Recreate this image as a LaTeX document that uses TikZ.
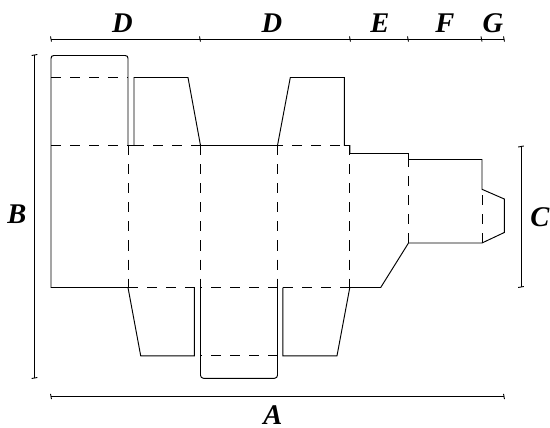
\documentclass[tikz,border=0pt]{standalone}
\usepackage{fontspec}
\setmainfont{Liberation Serif}
\tikzset{
  cutline/.style={line width=0.95pt,line join=miter},
  foldline/.style={line width=0.95pt,dash pattern=on 10pt off 9pt},
  dimline/.style={line width=0.9pt},
  tick/.style={line width=0.9pt},
  dimlabel/.style={font=\fontsize{28.5}{28.5}\selectfont\bfseries\itshape,inner sep=0pt,anchor=base}
}
\begin{document}
\begin{tikzpicture}[x=1pt,y=-1pt]
\useasboundingbox (0,0) rectangle (550,428);
% cut lines
\draw[cutline] (128,145.5) -- (128,58.5) .. controls (128,56.5) and (127,55.5) .. (125,55.5) -- (54,55.5) .. controls (52,55.5) and (51,56.5) .. (51,58.5) -- (51,287.5) -- (128,287.5);
\draw[cutline] (128,145.5) -- (134,145.5);
\draw[cutline] (134,145.5) -- (134,77.5) -- (188,77.5) -- (200.5,145.5) -- (277.5,145.5) -- (290.3,77.5) -- (344.3,77.5) -- (344.3,145.5) -- (349.8,145.5) -- (349.8,153.5) -- (408.5,153.5) -- (408.5,159.5) -- (482,159.5) -- (482,189.3) -- (504.3,199) -- (504.3,232.5) -- (482,243) -- (408.5,243) -- (380.7,287.5) -- (349.8,287.5);
\draw[cutline] (128,287.5) -- (140.7,355.8) -- (194.4,355.8) -- (194.4,287.5);
\draw[cutline] (349.8,287.5) -- (337,355.8) -- (282.8,355.8) -- (282.8,287.5);
\draw[cutline,rounded corners=3pt] (200.5,287.5) -- (200.5,378.3) -- (277.5,378.3) -- (277.5,287.5);
% fold lines
\draw[foldline] (51,77.5) -- (128,77.5);
\draw[foldline] (51,145.5) -- (128,145.5);
\draw[foldline] (134,145.5) -- (200.5,145.5);
\draw[foldline] (340,145.5) -- (277.5,145.5);
\draw[foldline] (128,145.5) -- (128,288);
\draw[foldline] (200.5,145.5) -- (200.5,288);
\draw[foldline] (277.5,145.5) -- (277.5,288);
\draw[foldline] (349.8,145.5) -- (349.8,288);
\draw[foldline] (408.5,243) -- (408.5,159.5);
\draw[foldline] (482,243) -- (482,189.3);
\draw[foldline] (128,287.5) -- (200.5,287.5);
\draw[foldline] (277.5,287.5) -- (200.5,287.5);
\draw[foldline] (349.8,287.5) -- (277.5,287.5);
\draw[foldline] (277.5,355.8) -- (200.5,355.8);
% dimension lines
\coordinate (ta) at (51,39);
\coordinate (tb) at (200,39);
\coordinate (tc) at (350,39);
\coordinate (td) at (408,39);
\coordinate (te) at (481.5,39);
\coordinate (tf) at (504,39);
\draw[dimline] (ta) -- (tf);
\foreach \c in {ta,tb,tc,td,te,tf}
  \draw[tick] ([xshift=0.5pt,yshift=-2.6pt]\c) -- ([xshift=-0.5pt,yshift=2.6pt]\c);
\coordinate (ba) at (51,396.5);
\coordinate (bb) at (504,396.5);
\draw[dimline] (ba) -- (bb);
\foreach \c in {ba,bb}
  \draw[tick] ([xshift=0.5pt,yshift=-2.6pt]\c) -- ([xshift=-0.5pt,yshift=2.6pt]\c);
\coordinate (la) at (34.5,55);
\coordinate (lb) at (34.5,378);
\draw[dimline] (la) -- (lb);
\foreach \c in {la,lb}
  \draw[tick] ([xshift=-2.8pt,yshift=-0.5pt]\c) -- ([xshift=2.8pt,yshift=0.5pt]\c);
\coordinate (ra) at (521,146.5);
\coordinate (rb) at (521,287);
\draw[dimline] (ra) -- (rb);
\foreach \c in {ra,rb}
  \draw[tick] ([xshift=-2.8pt,yshift=-0.5pt]\c) -- ([xshift=2.8pt,yshift=0.5pt]\c);
% labels
\node[dimlabel] (lD1) at (122.5,32.7) {D};
\node[dimlabel] (lD2) at (272,32.7) {D};
\node[dimlabel] (lE) at (380,33) {E};
\node[dimlabel] (lF) at (445,33) {F};
\node[dimlabel] (lG) at (493,33) {G};
\node[dimlabel] (lB) at (17,224) {B};
\node[dimlabel] (lC) at (540,226) {C};
\node[dimlabel] (lA) at (273,424.5) {A};
\end{tikzpicture}
\end{document}
